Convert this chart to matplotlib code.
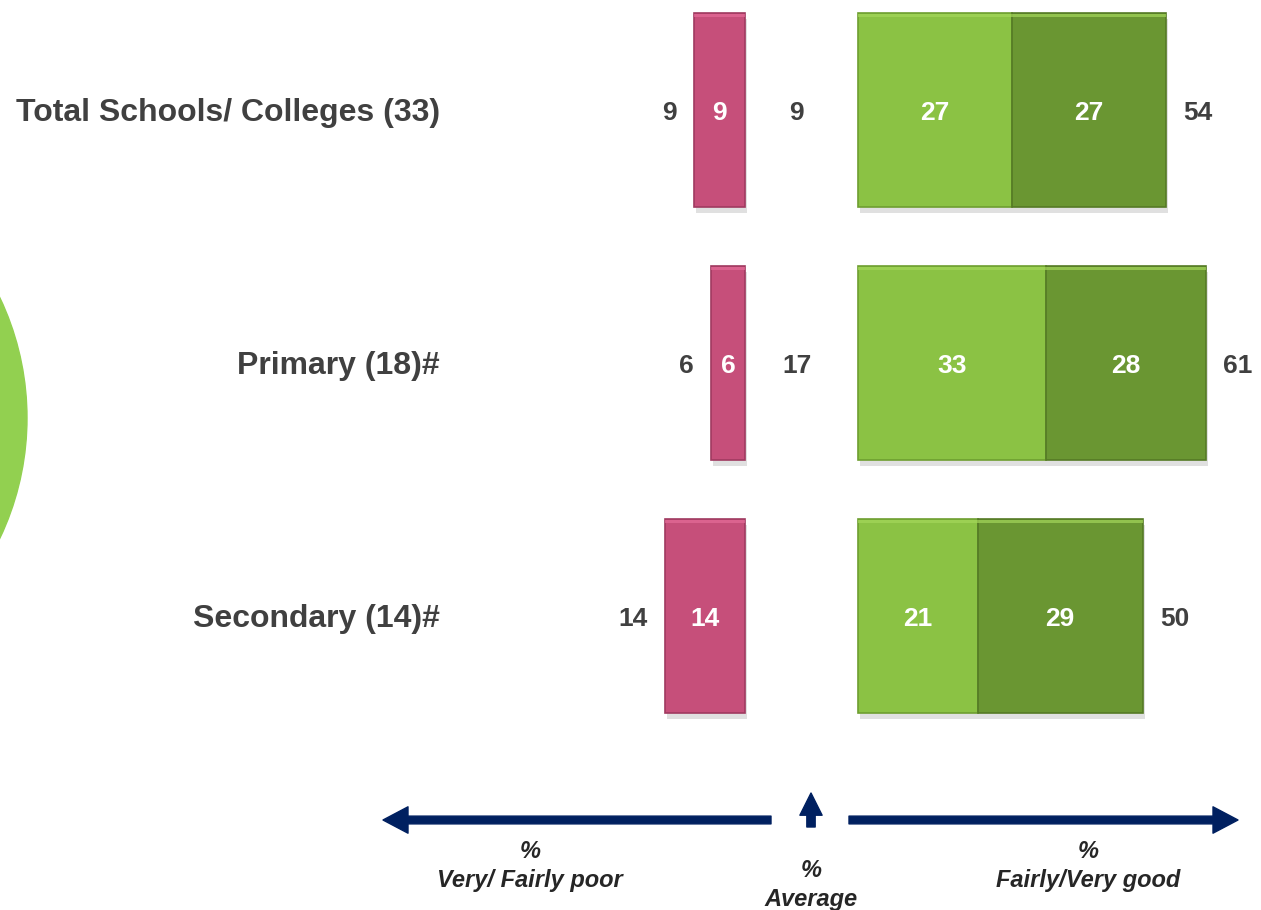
import numpy as np
import matplotlib
matplotlib.use("Agg")
import matplotlib.pyplot as plt
from matplotlib.patches import Ellipse

plt.rcParams['font.family'] = ['Liberation Sans', 'DejaVu Sans']

# data
categories = ["Total Schools/ Colleges (33)", "Primary (18)#", "Secondary (14)#"]
poor = [9, 6, 14]            # very/fairly poor
average = [9, 17, None]      # average (blank for secondary)
fairly_good = [27, 33, 21]
very_good = [27, 28, 29]
total_good = [54, 61, 50]

PINK = "#C64F7A"
LGREEN = "#8BC244"
DGREEN = "#6A9632"
NAVY = "#002060"
GREY = "#404040"

W, H = 1261, 910
fig = plt.figure(figsize=(W / 100, H / 100), dpi=100)
ax = fig.add_axes([0, 0, 1, 1])

px = 5.7          # pixels per percent
x0 = 745          # pixel where poor bars end
gap = 19.8        # offset (in %) where good bars start
avg_x = 9.1
row_px = 253
top_px = 110

ax.set_xlim(-x0 / px, (W - x0) / px)
ax.set_ylim((H - top_px) / row_px, -top_px / row_px)
ax.axis("off")

y = np.arange(len(categories))
bh = 0.767

# shadows
ax.barh(y + 0.025, [-p for p in poor], height=bh, left=0.4, color="#000000", alpha=0.12, zorder=1)
ax.barh(y + 0.025, total_good, height=bh, left=np.full(3, gap) + 0.4, color="#000000", alpha=0.12, zorder=1)

ax.barh(y, [-p for p in poor], height=bh, color=PINK, edgecolor="#A03A60", linewidth=1.2, zorder=2)
ax.barh(y, fairly_good, height=bh, left=gap, color=LGREEN, edgecolor="#6E9E30", linewidth=1.2, zorder=2)
ax.barh(y, very_good, height=bh, left=np.array(fairly_good) + gap, color=DGREEN,
        edgecolor="#557A25", linewidth=1.2, zorder=2)

# lighter top bevel line
ax.barh(y - bh / 2 + 0.01, [-p for p in poor], height=0.014, color="#E46C98", alpha=0.7, zorder=2.5)
ax.barh(y - bh / 2 + 0.01, total_good, height=0.014, left=gap, color="#A4D65A", alpha=0.7, zorder=2.5)

vfs = 19
yo = 0.01  # small downward nudge of labels
for i in range(len(categories)):
    yi = i + yo
    ax.text(-poor[i] / 2, yi, str(poor[i]), ha="center", va="center", color="white",
            fontsize=vfs, fontweight="bold", zorder=3)
    ax.text(-poor[i] - 3.0, yi, str(poor[i]), ha="right", va="center", color=GREY,
            fontsize=vfs, fontweight="bold")
    if average[i] is not None:
        ax.text(avg_x, yi, str(average[i]), ha="center", va="center", color=GREY,
                fontsize=vfs, fontweight="bold")
    ax.text(gap + fairly_good[i] / 2, yi, str(fairly_good[i]), ha="center", va="center",
            color="white", fontsize=vfs, fontweight="bold", zorder=3)
    ax.text(gap + fairly_good[i] + very_good[i] / 2, yi, str(very_good[i]), ha="center",
            va="center", color="white", fontsize=vfs, fontweight="bold", zorder=3)
    ax.text(gap + total_good[i] + 3.0, yi, str(total_good[i]), ha="left", va="center",
            color=GREY, fontsize=vfs, fontweight="bold")
    ax.text((440 - x0) / px, yi, categories[i], ha="right", va="center", color=GREY,
            fontsize=23, fontweight="bold")

# green circle on the left
fig.patches.append(Ellipse((-253 / W, 1 - 418 / H), 2 * 280 / W, 2 * 280 / H,
                           transform=fig.transFigure, color="#92D050", zorder=0))

# bottom arrows
arr = dict(arrowstyle="simple,tail_width=0.28,head_width=0.95,head_length=0.9",
           color=NAVY, shrinkA=0, shrinkB=0, mutation_scale=20)


def fp(xp, yp):
    return (xp / W, 1 - yp / H)


ax.annotate("", xy=fp(383, 820), xytext=fp(771, 820), xycoords="figure fraction",
            textcoords="figure fraction", arrowprops=arr)
ax.annotate("", xy=fp(1238, 820), xytext=fp(849, 820), xycoords="figure fraction",
            textcoords="figure fraction", arrowprops=arr)
ax.annotate("", xy=fp(811, 793), xytext=fp(811, 827), xycoords="figure fraction",
            textcoords="figure fraction",
            arrowprops=dict(arrowstyle="simple,tail_width=0.3,head_width=0.8,head_length=0.8",
                            color=NAVY, shrinkA=0, shrinkB=0, mutation_scale=20))

lab = dict(ha="center", va="center", fontsize=17, fontweight="bold", fontstyle="italic",
           color="#262626", linespacing=1.3)
fig.text(*fp(530, 866), "%\nVery/ Fairly poor", **lab)
fig.text(*fp(811, 885), "%\nAverage", **lab)
fig.text(*fp(1088, 866), "%\nFairly/Very good", **lab)

fig.savefig("out.png", dpi=100)
